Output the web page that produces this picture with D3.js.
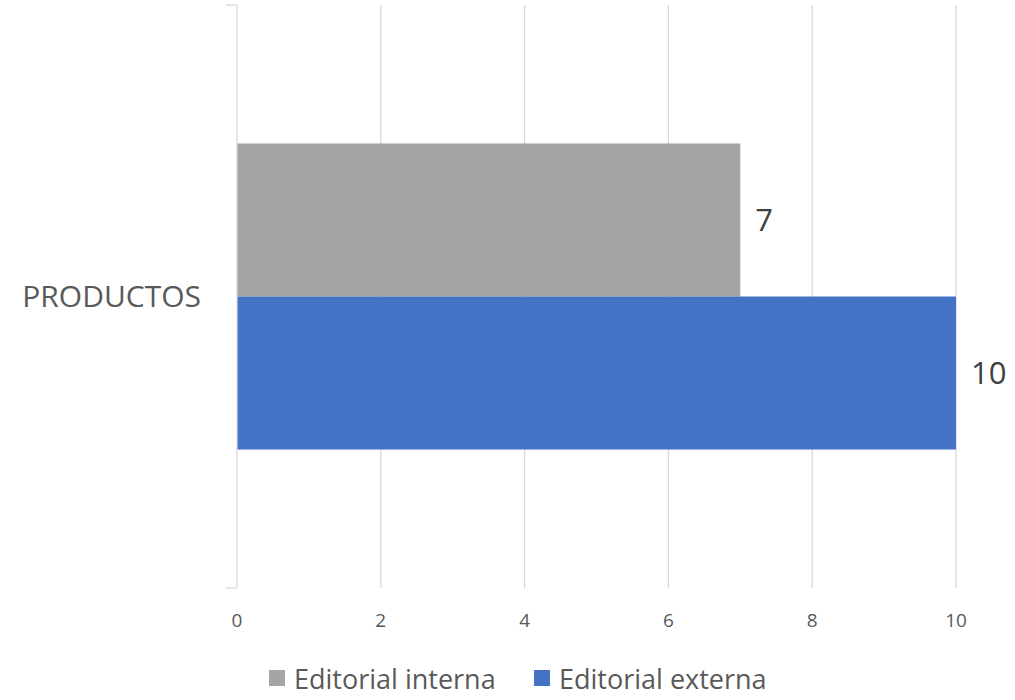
<!DOCTYPE html>
<html>
<head>
<meta charset="utf-8">
<script src="https://cdn.jsdelivr.net/npm/d3@7"></script>
<style>
body { margin: 0; background: #fff; }
text { font-family: "Open Sans", "Noto Sans", sans-serif; fill: #595959; }
</style>
</head>
<body>
<svg id="graph" width="1015" height="700"></svg>
<script>
var categories = ["PRODUCTOS"];
var seriesNames = ["Editorial interna", "Editorial externa"];
var seriesColors = ["#a5a5a5", "#4472c4"];
var interna = [7];
var externa = [10];
var xTicks = [0, 2, 4, 6, 8, 10];

var svg = d3.select("#graph");
var plotLeft = 237, plotRight = 956, plotTop = 5, plotBottom = 588;

var x = d3.scaleLinear().domain([0, 10]).range([plotLeft, plotRight]);
var y = d3.scaleBand().domain(categories).range([plotTop, plotBottom]).paddingInner(0).paddingOuter(0);
var inner = d3.scaleBand().domain(seriesNames).range([0, y.bandwidth()]).paddingOuter(0.905).paddingInner(0);

// gridlines
svg.append("g").selectAll("line")
    .data(xTicks.slice(1))
    .enter().append("line")
    .attr("x1", function(d) { return x(d); })
    .attr("x2", function(d) { return x(d); })
    .attr("y1", plotTop)
    .attr("y2", plotBottom)
    .attr("stroke", "#d9d9d9")
    .attr("stroke-width", 1.3);

// x tick labels
svg.append("g").selectAll("text")
    .data(xTicks)
    .enter().append("text")
    .attr("x", function(d) { return x(d); })
    .attr("y", 627)
    .attr("text-anchor", "middle")
    .style("font-size", "19px")
    .text(function(d) { return d; });

var rows = [];
categories.forEach(function(c, i) {
    rows.push({cat: c, name: seriesNames[0], value: interna[i], color: seriesColors[0]});
    rows.push({cat: c, name: seriesNames[1], value: externa[i], color: seriesColors[1]});
});

svg.append("g").selectAll("rect")
    .data(rows)
    .enter().append("rect")
    .attr("x", x(0))
    .attr("y", function(d) { return y(d.cat) + inner(d.name); })
    .attr("width", function(d) { return x(d.value) - x(0); })
    .attr("height", inner.bandwidth())
    .attr("fill", function(d) { return d.color; });

// value labels
svg.append("g").selectAll("text")
    .data(rows)
    .enter().append("text")
    .attr("x", function(d) { return x(d.value) + 15; })
    .attr("y", function(d) { return y(d.cat) + inner(d.name) + inner.bandwidth() / 2; })
    .attr("dy", "0.36em")
    .style("font-size", "31px")
    .style("fill", "#404040")
    .text(function(d) { return d.value; });

// category axis
var yAxis = svg.append("g");
yAxis.append("line")
    .attr("x1", plotLeft).attr("x2", plotLeft)
    .attr("y1", plotTop).attr("y2", plotBottom)
    .attr("stroke", "#d9d9d9").attr("stroke-width", 1.3);
[plotTop, plotBottom].forEach(function(t) {
    yAxis.append("line")
        .attr("x1", plotLeft - 11).attr("x2", plotLeft)
        .attr("y1", t).attr("y2", t)
        .attr("stroke", "#d9d9d9").attr("stroke-width", 1.3);
});
yAxis.selectAll("text")
    .data(categories)
    .enter().append("text")
    .attr("x", 201)
    .attr("y", function(d) { return y(d) + y.bandwidth() / 2; })
    .attr("dy", "0.36em")
    .attr("text-anchor", "end")
    .style("font-size", "30px")
    .text(function(d) { return d; });

// legend
var legendX = [269, 534];
var legend = svg.append("g").selectAll("g")
    .data(seriesNames)
    .enter().append("g")
    .attr("transform", function(d, i) { return "translate(" + legendX[i] + ",0)"; });
legend.append("rect")
    .attr("x", 0).attr("y", 670)
    .attr("width", 16).attr("height", 16)
    .attr("fill", function(d, i) { return seriesColors[i]; });
legend.append("text")
    .attr("x", 25).attr("y", 679)
    .attr("dy", "0.36em")
    .style("font-size", "27px")
    .text(function(d) { return d; });
</script>
</body>
</html>
